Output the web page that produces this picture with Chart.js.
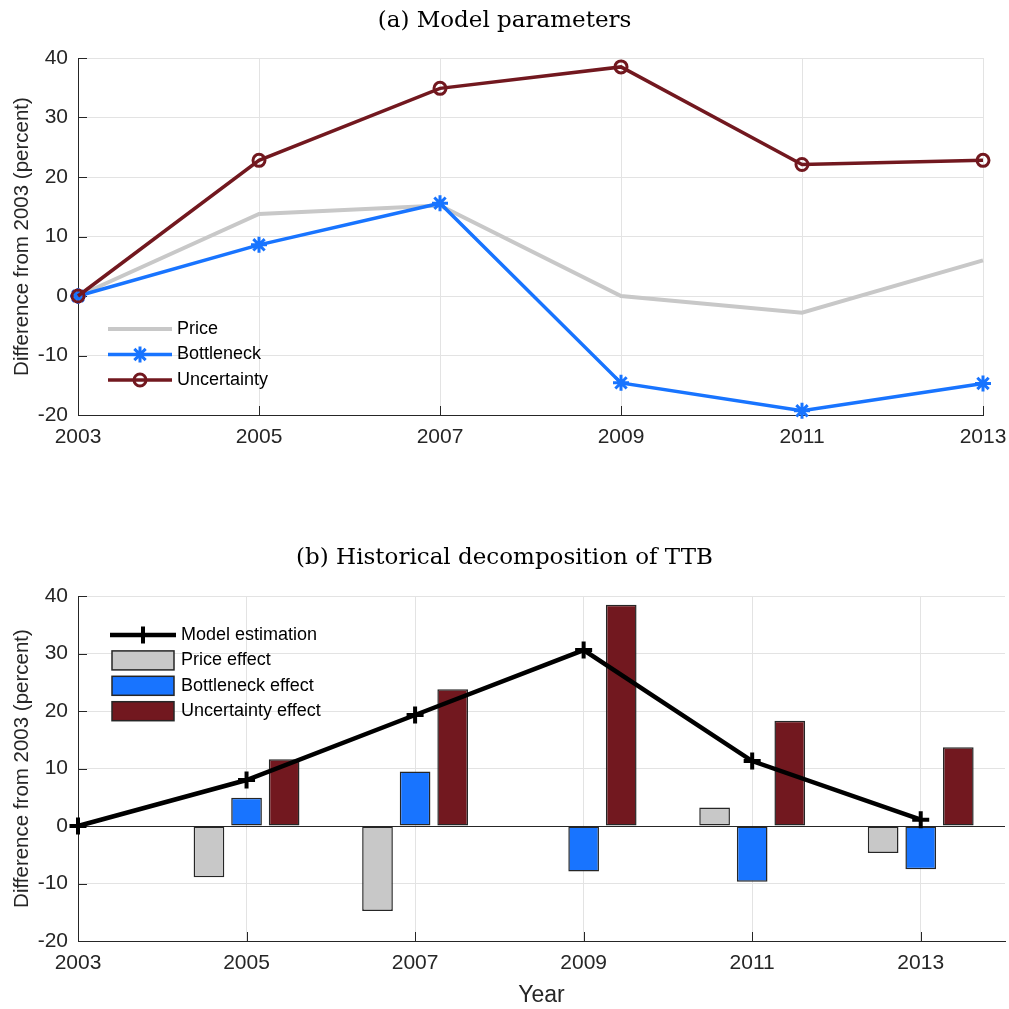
<!DOCTYPE html>
<html>
<head>
<meta charset="utf-8">
<script src="https://cdn.jsdelivr.net/npm/chart.js@4.4.1/dist/chart.umd.min.js"></script>
<style>
  html, body { margin: 0; padding: 0; background: #ffffff; }
  #wrap { position: relative; width: 1009px; height: 1009px; }
  canvas { position: absolute; left: 0; }
  #paramChart { top: 0; }
  #decompChart { top: 490px; }
</style>
</head>
<body>
<div id="wrap">
  <canvas id="paramChart" width="1009" height="490"></canvas>
  <canvas id="decompChart" width="1009" height="519"></canvas>
</div>
<script>
// Survey years and axis ticks
const years = [2003, 2005, 2007, 2009, 2011, 2013];
const yearTickLabels = ['2003', '2005', '2007', '2009', '2011', '2013'];
const valueTicks = [-20, -10, 0, 10, 20, 30, 40];

// (a) Model parameters, difference from 2003 (percent)
const priceParam = [0, 13.8, 15.2, 0.0, -2.8, 6.0];
const bottleneckParam = [0, 8.6, 15.6, -14.6, -19.3, -14.7];
const uncertaintyParam = [0, 22.8, 34.9, 38.5, 22.1, 22.8];

// (b) Historical decomposition of TTB, difference from 2003 (percent)
const modelEstimation = [0, 8.0, 19.3, 30.6, 11.3, 1.1];
const priceEffect = [0, -8.9, -14.8, 0, 3.2, -4.7];
const bottleneckEffect = [0, 4.9, 9.5, -7.9, -9.7, -7.5];
const uncertaintyEffect = [0, 11.6, 23.8, 38.5, 18.3, 13.7];

const SANS = "'Liberation Sans', Arial, Helvetica, sans-serif";
const SERIF = "'DejaVu Serif', 'Liberation Serif', serif";
const AXIS_COLOR = '#262626';
const GRID_COLOR = '#e3e3e3';
const GREY = '#c8c8c8';
const BLUE = '#1874ff';
const DARK_RED = '#72181f';

const pairs = (vals) => years.map((yr, i) => ({ x: yr, y: vals[i] }));

// Tick marks drawn inward from the left and bottom axis lines
const innerTicks = {
  id: 'innerTicks',
  beforeDatasetsDraw(chart, args, opts) {
    const { ctx, chartArea: a, scales: { x, y } } = chart;
    ctx.save();
    ctx.strokeStyle = opts.color;
    ctx.lineWidth = 1;
    ctx.beginPath();
    x.ticks.forEach((t, i) => {
      const px = Math.round(x.getPixelForTick(i)) + 0.5;
      ctx.moveTo(px, a.bottom);
      ctx.lineTo(px, a.bottom - opts.length);
    });
    y.ticks.forEach((t, i) => {
      const py = Math.round(y.getPixelForTick(i)) + 0.5;
      ctx.moveTo(a.left, py);
      ctx.lineTo(a.left + opts.length, py);
    });
    ctx.stroke();
    ctx.restore();
  }
};

function drawMarker(ctx, style, x, y, r) {
  if (Chart.helpers && Chart.helpers.drawPoint) {
    Chart.helpers.drawPoint(ctx, { pointStyle: style, radius: r, rotation: 0, borderWidth: ctx.lineWidth }, x, y);
    return;
  }
  ctx.beginPath();
  if (style === 'circle') {
    ctx.arc(x, y, r, 0, Math.PI * 2);
  } else {
    ctx.moveTo(x - r, y); ctx.lineTo(x + r, y);
    ctx.moveTo(x, y - r); ctx.lineTo(x, y + r);
    if (style === 'star') {
      const d = r * Math.SQRT1_2;
      ctx.moveTo(x - d, y - d); ctx.lineTo(x + d, y + d);
      ctx.moveTo(x - d, y + d); ctx.lineTo(x + d, y - d);
    }
  }
  ctx.stroke();
}

// Legend placed inside the plot area, built from the dataset styles
const insetLegend = {
  id: 'insetLegend',
  afterDatasetsDraw(chart, args, opts) {
    const ctx = chart.ctx;
    ctx.save();
    ctx.font = opts.fontSize + 'px ' + SANS;
    ctx.textBaseline = 'middle';
    ctx.textAlign = 'left';
    opts.order.forEach((di, row) => {
      const ds = chart.data.datasets[di];
      const y = opts.top + row * opts.rowGap;
      const x0 = opts.left;
      const x1 = opts.left + opts.symbolWidth;
      const isBar = (ds.type || chart.config.type) === 'bar';
      if (isBar) {
        const h = opts.boxHeight;
        ctx.fillStyle = ds.backgroundColor;
        ctx.fillRect(x0 + 2, y - h / 2, x1 - x0 - 4, h);
        ctx.strokeStyle = ds.borderColor;
        ctx.lineWidth = ds.borderWidth;
        ctx.strokeRect(x0 + 2, y - h / 2, x1 - x0 - 4, h);
      } else {
        ctx.strokeStyle = ds.borderColor;
        ctx.lineWidth = ds.borderWidth;
        ctx.beginPath();
        ctx.moveTo(x0, y);
        ctx.lineTo(x1, y);
        ctx.stroke();
        if (ds.pointRadius > 0) {
          ctx.strokeStyle = ds.pointBorderColor;
          ctx.fillStyle = ds.pointBackgroundColor;
          ctx.lineWidth = ds.pointBorderWidth;
          drawMarker(ctx, ds.pointStyle, (x0 + x1) / 2, y, ds.pointRadius);
        }
      }
      ctx.fillStyle = opts.color;
      ctx.fillText(ds.label, x1 + opts.textGap, y);
    });
    ctx.restore();
  }
};

function yearAxis(extra, height) {
  return Object.assign({
    type: 'linear',
    min: 2003,
    offset: false,
    afterBuildTicks: (scale) => { scale.ticks = years.map(v => ({ value: v })); },
    afterFit: (scale) => {
      scale.height = height;
      scale.paddingLeft = 0;
      scale.paddingRight = 0;
    },
    ticks: {
      color: AXIS_COLOR,
      font: { family: SANS, size: 21 },
      padding: 10,
      maxRotation: 0,
      autoSkip: false,
      callback: (v) => yearTickLabels[years.indexOf(v)]
    },
    grid: { color: GRID_COLOR, lineWidth: 1, drawTicks: false, offset: false },
    border: { display: true, color: AXIS_COLOR, width: 1 }
  }, extra);
}

function valueAxis(gridColor) {
  return {
    type: 'linear',
    min: -20,
    max: 40,
    afterBuildTicks: (scale) => { scale.ticks = valueTicks.map(v => ({ value: v })); },
    afterFit: (scale) => { scale.width = 78; },
    ticks: {
      color: AXIS_COLOR,
      font: { family: SANS, size: 21 },
      padding: 10,
      callback: (v) => String(v)
    },
    title: {
      display: true,
      text: 'Difference from 2003 (percent)',
      color: AXIS_COLOR,
      font: { family: SANS, size: 20.5 },
      padding: { top: 10, bottom: 0 }
    },
    grid: { color: gridColor, lineWidth: 1, drawTicks: false },
    border: { display: true, color: AXIS_COLOR, width: 1 }
  };
}

// Empty right-hand axis that only reserves margin beside the plot
function rightMargin(width) {
  return {
    type: 'linear',
    position: 'right',
    min: -20,
    max: 40,
    ticks: { display: false },
    grid: { display: false, drawTicks: false },
    border: { display: false },
    afterFit: (scale) => { scale.width = width; }
  };
}

// (a) Model parameters
new Chart(document.getElementById('paramChart'), {
  type: 'line',
  data: {
    datasets: [
      {
        label: 'Price',
        data: pairs(priceParam),
        borderColor: GREY,
        borderWidth: 4,
        pointRadius: 0,
        tension: 0,
        clip: false,
        order: 3
      },
      {
        label: 'Bottleneck',
        data: pairs(bottleneckParam),
        borderColor: BLUE,
        borderWidth: 3.5,
        pointStyle: 'star',
        pointRadius: 8,
        pointBorderWidth: 3,
        pointBorderColor: BLUE,
        pointBackgroundColor: BLUE,
        tension: 0,
        clip: false,
        order: 2
      },
      {
        label: 'Uncertainty',
        data: pairs(uncertaintyParam),
        borderColor: DARK_RED,
        borderWidth: 3.5,
        pointStyle: 'circle',
        pointRadius: 6,
        pointBorderWidth: 3,
        pointBorderColor: DARK_RED,
        pointBackgroundColor: 'rgba(0,0,0,0)',
        tension: 0,
        clip: false,
        order: 1
      }
    ]
  },
  options: {
    responsive: false,
    animation: false,
    devicePixelRatio: 1,
    events: [],
    layout: { autoPadding: false, padding: 0 },
    scales: {
      x: yearAxis({ max: 2013 }, 75),
      y: valueAxis(GRID_COLOR),
      yRight: rightMargin(26)
    },
    plugins: {
      legend: { display: false },
      tooltip: { enabled: false },
      title: {
        display: true,
        text: '(a) Model parameters',
        color: '#000000',
        font: { family: SERIF, size: 23, weight: 'normal' },
        padding: { top: 7, bottom: 23.4 }
      },
      innerTicks: { color: AXIS_COLOR, length: 9 },
      insetLegend: {
        order: [0, 1, 2],
        left: 108, top: 329, rowGap: 25.5,
        symbolWidth: 64, textGap: 5, boxHeight: 19,
        fontSize: 18, color: '#000000'
      }
    }
  },
  plugins: [innerTicks, insetLegend]
});

// (b) Historical decomposition of TTB
const barStyle = {
  type: 'bar',
  borderColor: AXIS_COLOR,
  borderWidth: 1.5,
  borderSkipped: false,
  categoryPercentage: 0.669,
  barPercentage: 0.816,
  order: 1
};

new Chart(document.getElementById('decompChart'), {
  type: 'bar',
  data: {
    datasets: [
      {
        type: 'line',
        label: 'Model estimation',
        data: pairs(modelEstimation),
        borderColor: '#000000',
        borderWidth: 4.5,
        pointStyle: 'cross',
        pointRadius: 8.5,
        pointBorderWidth: 4,
        pointBorderColor: '#000000',
        pointBackgroundColor: '#000000',
        tension: 0,
        clip: false,
        order: 0
      },
      Object.assign({ label: 'Price effect', data: pairs(priceEffect), backgroundColor: GREY }, barStyle),
      Object.assign({ label: 'Bottleneck effect', data: pairs(bottleneckEffect), backgroundColor: BLUE }, barStyle),
      Object.assign({ label: 'Uncertainty effect', data: pairs(uncertaintyEffect), backgroundColor: DARK_RED }, barStyle)
    ]
  },
  options: {
    responsive: false,
    animation: false,
    devicePixelRatio: 1,
    events: [],
    layout: { autoPadding: false, padding: 0 },
    scales: {
      x: yearAxis({
        max: 2014,
        title: {
          display: true,
          text: 'Year',
          color: AXIS_COLOR,
          font: { family: SANS, size: 23 },
          padding: { top: 0, bottom: 0 }
        }
      }, 68),
      y: valueAxis((ctx) => (ctx.tick && ctx.tick.value === 0) ? AXIS_COLOR : GRID_COLOR),
      yRight: rightMargin(4)
    },
    plugins: {
      legend: { display: false },
      tooltip: { enabled: false },
      title: {
        display: true,
        text: '(b) Historical decomposition of TTB',
        color: '#000000',
        font: { family: SERIF, size: 23, weight: 'normal' },
        padding: { top: 54, bottom: 24.4 }
      },
      innerTicks: { color: AXIS_COLOR, length: 9 },
      insetLegend: {
        order: [0, 1, 2, 3],
        left: 110, top: 145, rowGap: 25.4,
        symbolWidth: 66, textGap: 5, boxHeight: 19,
        fontSize: 18, color: '#000000'
      }
    }
  },
  plugins: [innerTicks, insetLegend]
});
</script>
</body>
</html>
